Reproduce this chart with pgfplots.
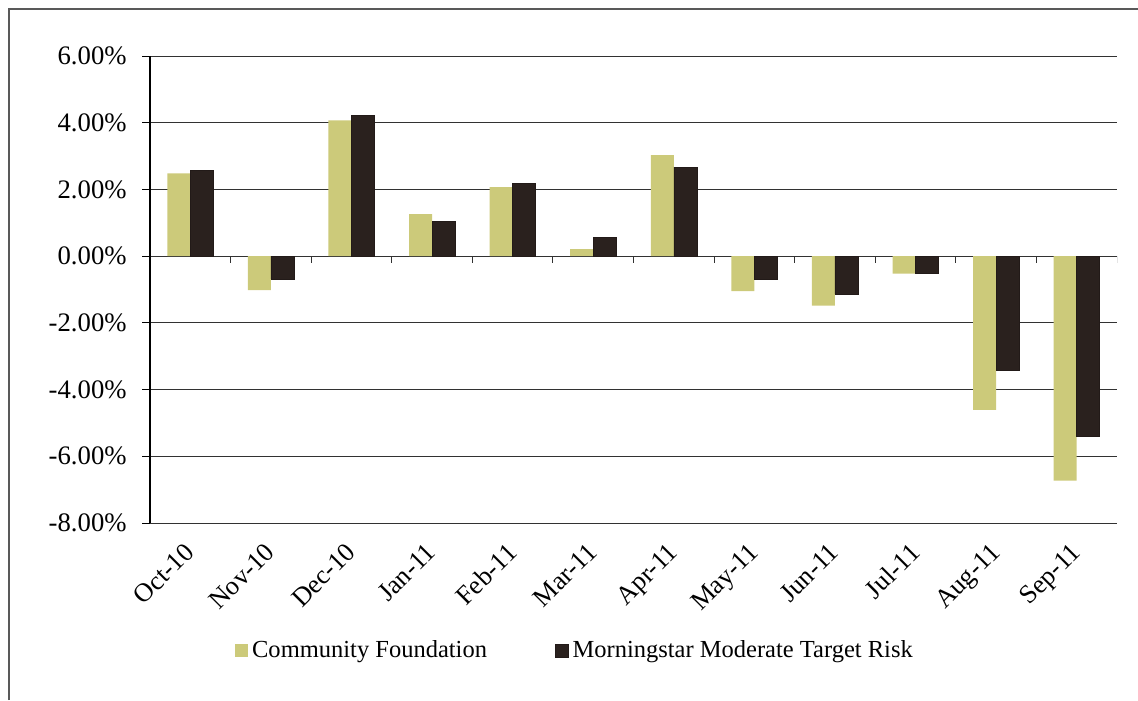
\documentclass[border=0pt]{standalone}
\usepackage{pgfplots}
\pgfplotsset{compat=1.18}
\usepackage{fontspec}
\setmainfont{Liberation Serif}
\definecolor{cf}{RGB}{204,202,122}
\definecolor{ms}{RGB}{42,33,30}
\definecolor{gridc}{RGB}{50,50,50}
\begin{document}
\begin{tikzpicture}[x=1bp,y=1bp]
\path[use as bounding box] (0,0) rectangle (569,350);
\draw[gray!70!black, line width=0.6bp] (4.5,0) -- (4.5,345.5) -- (569,345.5);
\begin{axis}[
  at={(75bp,88.5bp)}, anchor=south west,
  scale only axis, width=483.5bp, height=233.5bp,
  ymin=-8, ymax=6, xmin=-0.5, xmax=11.5,
  ybar=0pt, bar width=11.5bp,
  axis x line*=bottom, axis y line*=left,
  x axis line style={draw=gridc, line width=0.5bp, -},
  y axis line style={draw=black, line width=0.6bp, -},
  xtick=data,
  xticklabels={Oct-10,Nov-10,Dec-10,Jan-11,Feb-11,Mar-11,Apr-11,May-11,Jun-11,Jul-11,Aug-11,Sep-11},
  xtick style={draw=none},
  xticklabel style={rotate=45, anchor=north east, inner sep=0pt, font=\fontsize{13.2}{15}\selectfont, xshift=-6bp, yshift=-1bp},
  ytick={-8,-6,-4,-2,0,2,4,6},
  yticklabels={-8.00\%,-6.00\%,-4.00\%,-2.00\%,0.00\%,2.00\%,4.00\%,6.00\%},
  yticklabel style={font=\fontsize{13.4}{15}\selectfont, inner sep=0pt, xshift=-7.5bp},
  tick align=outside, major tick length=4bp,
  ytick style={draw=black, line width=0.5bp},
  ymajorgrids, major grid style={draw=gridc, line width=0.5bp},
  legend style={at={(0.4405,-0.274)}, anchor=center, draw=none, fill=none,
    legend columns=2, font=\fontsize{12.3}{14}\selectfont,
    /tikz/every even column/.append style={column sep=32bp}},
  legend image code/.code={\fill[#1] (0bp,-3bp) rectangle (6.5bp,3.5bp);},
]
\addplot[fill=cf, draw=none] coordinates {
(0,2.48) (1,-1.02) (2,4.07) (3,1.26) (4,2.07) (5,0.21) (6,3.03) (7,-1.05) (8,-1.48) (9,-0.52) (10,-4.61) (11,-6.73)};
\addplot[fill=ms, draw=ms!80!black, line width=0.3bp] coordinates {
(0,2.57) (1,-0.68) (2,4.22) (3,1.04) (4,2.18) (5,0.56) (6,2.67) (7,-0.69) (8,-1.14) (9,-0.52) (10,-3.41) (11,-5.39)};
\legend{Community Foundation, Morningstar Moderate Target Risk}
\pgfplotsinvokeforeach{0.5,1.5,2.5,3.5,4.5,5.5,6.5,7.5,8.5,9.5,10.5,11.5}{
  \draw[gridc, line width=0.5bp] (axis cs:#1,0) -- ++(0bp,-3.5bp);
}
\end{axis}
\end{tikzpicture}
\end{document}
